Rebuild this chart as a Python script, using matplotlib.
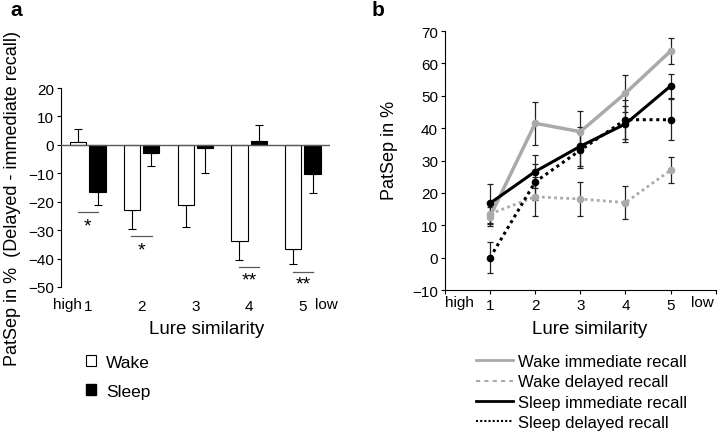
import numpy as np
import matplotlib
matplotlib.use('Agg')
import matplotlib.pyplot as plt
from matplotlib.patches import Patch
from matplotlib.lines import Line2D

plt.rcParams['font.family'] = ['Liberation Sans', 'DejaVu Sans']

# panel a: delayed - immediate recall
groups = [1, 2, 3, 4, 5]
wake_diff = [1.0, -22.8, -21.0, -33.9, -36.7]
wake_err = [4.6, 6.7, 7.8, 6.5, 5.2]
sleep_diff = [-16.7, -2.8, -1.0, 1.3, -10.4]
sleep_err = [4.3, 4.5, 8.9, 5.7, 6.5]
# significance markers: group, line y, star y, label
sig_groups = [1, 2, 4, 5]
sig_line_y = [-23.5, -32.0, -43.0, -44.7]
sig_star_y = [-28.5, -37.0, -47.5, -49.0]
sig_labels = ['*', '*', '**', '**']

# panel b: PatSep per lure bin
wake_imm = [12.7, 41.5, 38.9, 50.8, 63.8]
wake_imm_err = [3.0, 6.7, 6.3, 5.7, 4.0]
wake_del = [13.5, 18.8, 18.1, 17.0, 27.0]
wake_del_err = [3.0, 6.0, 5.3, 5.0, 4.0]
sleep_imm = [16.8, 26.6, 34.4, 41.3, 53.0]
sleep_imm_err = [6.0, 5.0, 6.0, 5.5, 3.8]
sleep_del = [0.0, 23.4, 33.2, 42.6, 42.6]
sleep_del_err = [4.8, 5.6, 5.5, 6.0, 6.4]

fig = plt.figure(figsize=(7.2, 4.35), dpi=100)

# ---- panel a ----
ax = fig.add_axes([0.0847, 0.338, 0.3733, 0.4574])
x = np.array(groups)
bw = 0.3
off = 0.18
ax.bar(x - off, wake_diff, bw, color='white', edgecolor='black', linewidth=0.8, zorder=2)
ax.bar(x + off, sleep_diff, bw, color='black', edgecolor='black', linewidth=0.8, zorder=2)
# one-sided error bars away from zero
for xi, v, e in zip(x - off, wake_diff, wake_err):
    lo, hi = (0, e) if v >= 0 else (e, 0)
    ax.errorbar(xi, v, yerr=[[lo], [hi]], fmt='none', ecolor='black', elinewidth=0.8,
                capsize=3, capthick=0.8, zorder=1)
for xi, v, e in zip(x + off, sleep_diff, sleep_err):
    lo, hi = (0, e) if v >= 0 else (e, 0)
    ax.errorbar(xi, v, yerr=[[lo], [hi]], fmt='none', ecolor='black', elinewidth=0.8,
                capsize=3, capthick=0.8, zorder=1)
ax.axhline(0, color='0.35', lw=1, zorder=3)
for g, ly, sy, lab in zip(sig_groups, sig_line_y, sig_star_y, sig_labels):
    ax.plot([g - 0.19, g + 0.19], [ly, ly], color='0.35', lw=0.9)
    ax.text(g, sy, lab, ha='center', va='center', fontsize=14)

ax.set_xlim(0.5, 5.5)
ax.set_ylim(-50, 20)
ax.set_yticks(range(-50, 21, 10))
ax.set_xticks(groups)
ax.set_xticklabels([str(g) for g in groups])
for s in ['top', 'right', 'bottom']:
    ax.spines[s].set_visible(False)
ax.tick_params(axis='x', length=0, pad=9, labelsize=11)
ax.tick_params(axis='y', length=3, pad=2, labelsize=11)
ax.text(0.62, -0.085, 'high', transform=ax.get_xaxis_transform(), ha='center', va='center', fontsize=11)
ax.text(5.44, -0.085, 'low', transform=ax.get_xaxis_transform(), ha='center', va='center', fontsize=11)
fig.text(0.287, 1 - 329 / 435, 'Lure similarity', ha='center', va='center', fontsize=13.5)
fig.text(0.017, 1 - 198 / 435, 'PatSep in %  (Delayed - immediate recall)', rotation=90,
         ha='center', va='center', fontsize=13)
leg_a = [Patch(facecolor='white', edgecolor='black', lw=0.8), Patch(facecolor='black', edgecolor='black')]
fig.legend(leg_a, ['Wake', 'Sleep'], loc='upper left', bbox_to_anchor=(86 / 720, 1 - 356 / 435),
           frameon=False, fontsize=12.5, handlelength=0.6, handleheight=0.6,
           handletextpad=0.55, labelspacing=0.8, borderpad=0, borderaxespad=0)
fig.text(0.014, 0.975, 'a', fontsize=15, fontweight='bold', ha='left', va='center')

# ---- panel b ----
bx = fig.add_axes([0.618, 0.331, 0.376, 0.5954])
xb = np.array(groups)
series = [
    (wake_imm, wake_imm_err, '#aaaaaa', '-', 2.5, 'Wake immediate recall'),
    (wake_del, wake_del_err, '#aaaaaa', (0, (1, 1.2)), 2.0, 'Wake delayed recall'),
    (sleep_imm, sleep_imm_err, 'black', '-', 2.2, 'Sleep immediate recall'),
    (sleep_del, sleep_del_err, 'black', (0, (1, 1.2)), 2.2, 'Sleep delayed recall'),
]
for vals, errs, col, ls, lw, lab in series:
    bx.errorbar(xb, vals, yerr=errs, fmt='none', ecolor='#222222', elinewidth=0.9,
                capsize=2.5, capthick=0.9, zorder=1)
    bx.plot(xb, vals, color=col, ls=ls, lw=lw, marker='o', ms=4.5, mfc=col, mec=col, zorder=2)
bx.set_xlim(0, 6)
bx.set_ylim(-10, 70)
bx.set_yticks(range(-10, 71, 10))
bx.set_xticks(range(0, 7))
bx.set_xticklabels(['', '1', '2', '3', '4', '5', ''])
for s in ['top', 'right']:
    bx.spines[s].set_visible(False)
bx.tick_params(axis='x', length=3, pad=3, labelsize=11)
bx.tick_params(axis='y', length=3, pad=2, labelsize=11)
bx.text(0.33, -0.048, 'high', transform=bx.get_xaxis_transform(), ha='center', va='center', fontsize=11)
bx.text(5.7, -0.048, 'low', transform=bx.get_xaxis_transform(), ha='center', va='center', fontsize=11)
fig.text(590 / 720, 1 - 330 / 435, 'Lure similarity', ha='center', va='center', fontsize=13.5)
fig.text(390 / 720, 1 - 150 / 435, 'PatSep in %', rotation=90, ha='center', va='center', fontsize=13)
leg_b = [Line2D([], [], color='#aaaaaa', lw=2),
         Line2D([], [], color='#aaaaaa', lw=1.5, ls=(0, (2, 2))),
         Line2D([], [], color='black', lw=2),
         Line2D([], [], color='black', lw=1.5, ls=(0, (1, 1)))]
fig.legend(leg_b, [s[5] for s in series], loc='upper left', bbox_to_anchor=(476 / 720, 1 - 355 / 435),
           frameon=False, fontsize=12, handlelength=2.2, handletextpad=0.35,
           labelspacing=0.32, borderpad=0, borderaxespad=0)
fig.text(372 / 720, 0.975, 'b', fontsize=15, fontweight='bold', ha='left', va='center')

fig.savefig('out.png', dpi=100)
